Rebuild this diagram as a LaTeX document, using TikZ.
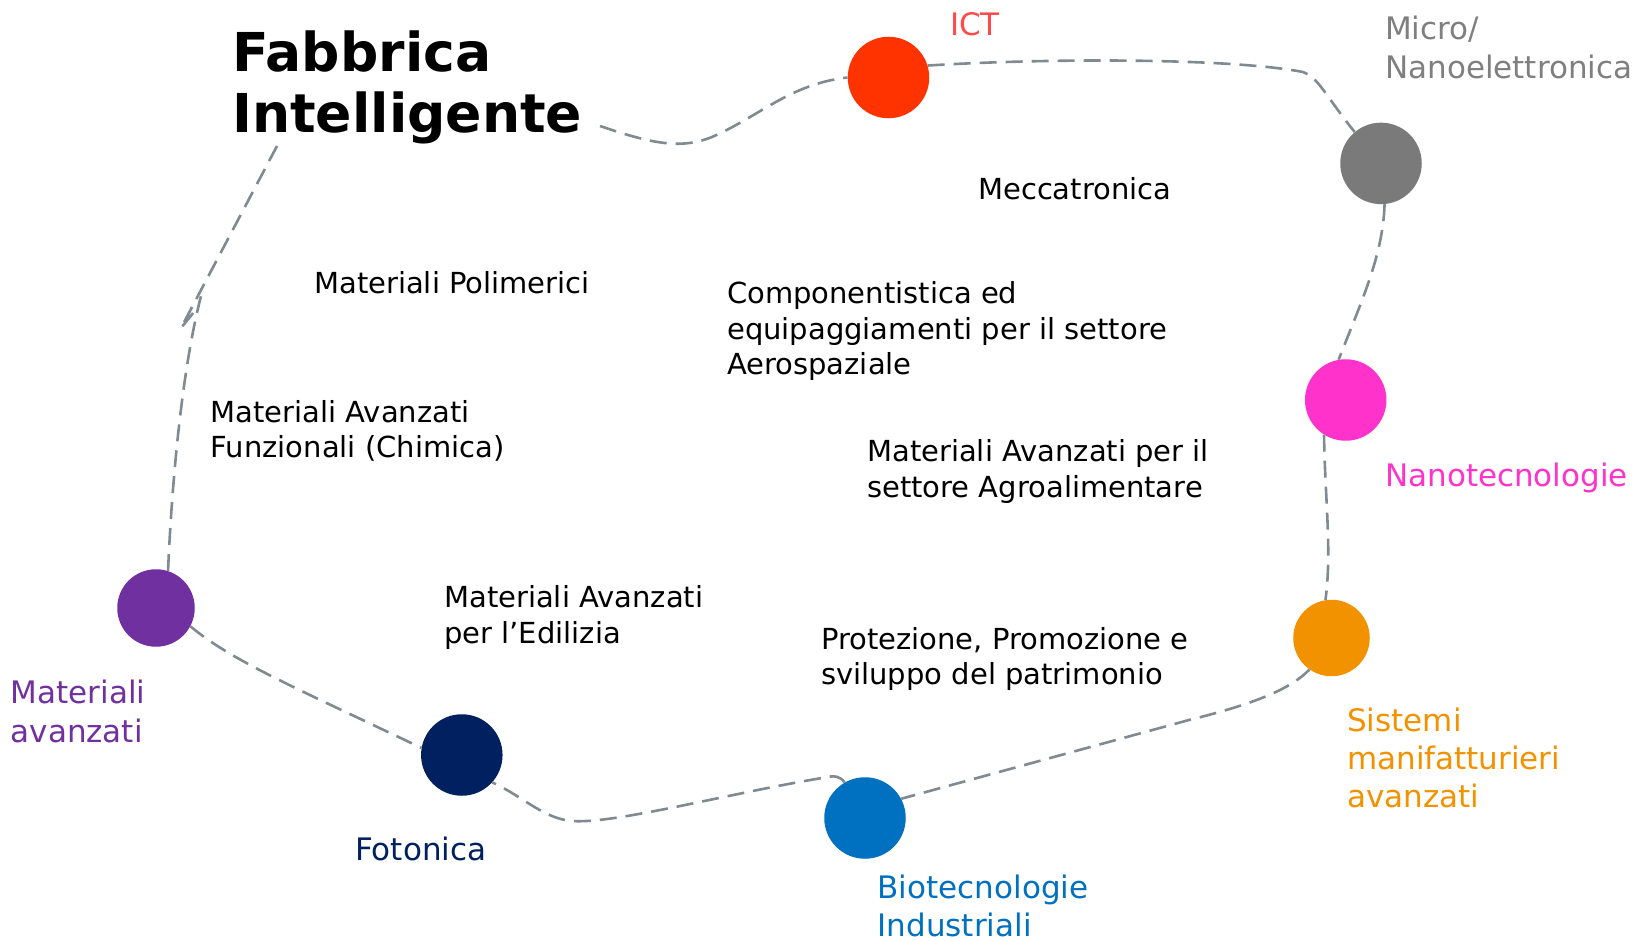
\documentclass[tikz,border=0pt]{standalone}
\usepackage{fontspec}
\setmainfont{DejaVu Sans}
\definecolor{lineg}{HTML}{7F8A92}
\definecolor{cict}{HTML}{FF3300}
\definecolor{tict}{HTML}{FF4A4A}
\definecolor{cgray}{HTML}{7A7A7A}
\definecolor{tgray}{HTML}{7F7F7F}
\definecolor{cpink}{HTML}{FF33CC}
\definecolor{corange}{HTML}{F39200}
\definecolor{cblue}{HTML}{0070C0}
\definecolor{cnavy}{HTML}{002060}
\definecolor{cpurple}{HTML}{7030A0}
\begin{document}
\begin{tikzpicture}[x=1pt,y=-1pt,
  dot/.style={circle,inner sep=0pt,minimum size=81.5pt},
  conn/.style={draw=lineg,line width=2.6pt,dash pattern=on 17pt off 9pt},
  body/.style={anchor=base west,align=left,inner sep=0pt,font=\fontsize{29}{35.6}\selectfont},
  lab/.style={anchor=base west,align=left,inner sep=0pt,font=\fontsize{31}{38.3}\selectfont}]
\useasboundingbox (0,0) rectangle (1642,941);

% circles
\node[dot,fill=cict] (ict) at (888.5,77.5) {};
\node[dot,fill=cgray] (gray) at (1381,163.4) {};
\node[dot,fill=cpink] (pink) at (1345.7,400) {};
\node[dot,fill=corange,minimum size=76.5pt] (orange) at (1331.5,638) {};
\node[dot,fill=cblue] (blue) at (865,818) {};
\node[dot,fill=cnavy] (navy) at (461.8,755) {};
\node[dot,fill=cpurple,minimum size=77.5pt] (purple) at (156,608) {};

% title (base anchor = last line)
\node[anchor=base west,align=left,inner sep=0pt,font=\bfseries\fontsize{53.6}{61}\selectfont] (title) at (232,133) {Fabbrica\\Intelligente};

% free ends
\coordinate (t1) at (600,126);
\coordinate (t2) at (277,146);
\coordinate (k1) at (181,328);
\coordinate (k3) at (198,307);
\coordinate (k2) at (201,296);

% connectors
\draw[conn] (t1) .. controls (650,143) and (680,150) .. (712,137) .. controls (760,116) and (790,84) .. (ict.west);
\draw[conn] (ict.17) .. controls (1050,58) and (1230,58) .. (1303,72) .. controls (1318,77) and (1325,95) .. (gray.130);
\draw[conn] (gray.-85) .. controls (1383,255) and (1362,300) .. (pink.100);
\draw[conn] (pink.-122) .. controls (1325,500) and (1332,550) .. (orange.99);
\draw[conn] (orange.-125) .. controls (1290,690) and (1250,705) .. (1189,720) -- (blue.28);
\draw[conn] (blue.120) .. controls (840,776) and (835,775) .. (822,778) .. controls (720,795) and (600,828) .. (565,820) .. controls (540,815) and (520,795) .. (navy.-42);
\draw[conn] (purple.-28) .. controls (230,660) and (300,690) .. (navy.170);
\draw[conn] (purple.72) .. controls (172,480) and (182,370) .. (k2);
\draw[conn] (t2) -- (k1) -- (k3);

% body texts (y = baseline of last line)
\node[body] (mpol) at (314,294) {Materiali Polimerici};
\node[body] (mecc) at (978,200) {Meccatronica};
\node[body] (comp) at (727,374.9) {Componentistica ed\\equipaggiamenti per il settore\\Aerospaziale};
\node[body] (mfun) at (210.5,457.6) {Materiali Avanzati\\Funzionali (Chimica)};
\node[body] (magr) at (867,497.4) {Materiali Avanzati per il\\settore Agroalimentare};
\node[body] (medi) at (444,643) {Materiali Avanzati\\per l’Edilizia};
\node[body] (prot) at (821,684.6) {Protezione, Promozione e\\sviluppo del patrimonio};

% coloured labels
\node[lab,text=tict] (lict) at (950,35.6) {ICT};
\node[lab,text=tgray] (lmicro) at (1385,78.1) {Micro/\\Nanoelettronica};
\node[lab,text=cpink] (lnano) at (1385,486) {Nanotecnologie};
\node[lab,text=corange] (lsist) at (1347,807.6) {Sistemi\\manifatturieri\\avanzati};
\node[lab,text=cblue] (lbio) at (877.5,936.5) {Biotecnologie\\Industriali};
\node[lab,text=cnavy] (lfoto) at (355,860) {Fotonica};
\node[lab,text=cpurple] (lmat) at (10.5,742) {Materiali\\avanzati};
\end{tikzpicture}
\end{document}
